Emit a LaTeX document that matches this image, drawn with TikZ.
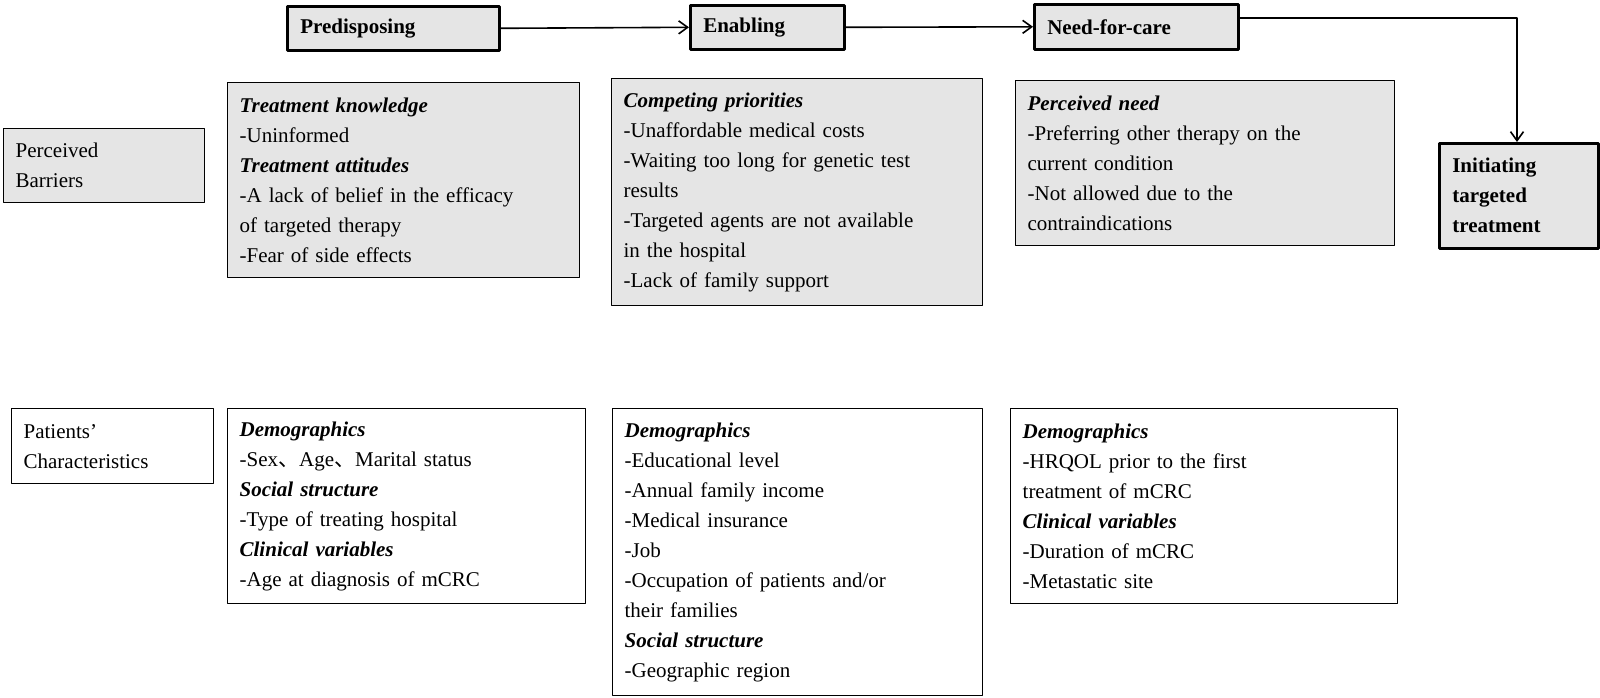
\documentclass[tikz,border=0pt]{standalone}
\usepackage{fontspec}
\setmainfont{Liberation Serif}
\newfontfamily\cjk{Noto Sans CJK SC}
\usetikzlibrary{arrows.meta,positioning}

\tikzset{
  base/.style={draw, anchor=north west, align=left, inner xsep=12pt, inner ysep=0pt,
    font=\fontsize{21}{30}\selectfont, line width=1.3pt},
  stage/.style={base, fill=black!10, line width=2.6pt, font=\fontsize{21}{30}\selectfont\bfseries},
  barrier/.style={base, fill=black!10},
  trait/.style={base, fill=white},
  flow/.style={line width=1.6pt, -{Straight Barb[length=9pt,width=13pt,line width=1.6pt]}}
}
\newcommand{\hd}[1]{\textbf{\textit{#1}}}
\newcommand{\sep}{{\cjk 、}}

\begin{document}
\begin{tikzpicture}[x=1pt, y=-1pt, line cap=round, line join=round]
  \useasboundingbox (0,0) rectangle (1600,698);

  % Stages
  \node[stage, minimum width=212pt, minimum height=44pt, text width=186pt] (pre) at (286,5) {Predisposing};
  \node[stage, minimum width=154pt, minimum height=44pt, text width=128pt] (ena) at (689,4) {Enabling};
  \node[stage, minimum width=204pt, minimum height=45pt, text width=178pt] (nee) at (1033,3) {Need-for-care};
  \node[stage, minimum width=159pt, minimum height=105pt, text width=133pt] (ini) at (1438,142)
    {Initiating\\targeted\\treatment};

  \draw[flow] (pre.east) -- (ena.west);
  \draw[flow] (nee.east |- 0,18) -- (1517,18) coordinate (turn) -- (turn |- ini.north);
  \draw[flow] (ena.east) -- (nee.west);

  % Perceived barriers
  \node[barrier, minimum width=201pt, minimum height=74pt, text width=177pt] (pb) at (3,128)
    {Perceived\\Barriers};
  \node[barrier, minimum width=352pt, minimum height=195pt, text width=328pt] (kno) at (227,82)
    {\hd{Treatment knowledge}\\-Uninformed\\\hd{Treatment attitudes}\\-A lack of belief in the efficacy\\of targeted therapy\\-Fear of side effects};
  \node[barrier, minimum width=371pt, minimum height=227pt, text width=347pt] (com) at (611,78)
    {\hd{Competing priorities}\\-Unaffordable medical costs\\-Waiting too long for genetic test\\results\\-Targeted agents are not available\\in the hospital\\-Lack of family support};
  \node[barrier, minimum width=379pt, minimum height=165pt, text width=355pt] (per) at (1015,80)
    {\hd{Perceived need}\\-Preferring other therapy on the\\current condition\\-Not allowed due to the\\contraindications};

  % Patients' characteristics
  \node[trait, minimum width=202pt, minimum height=75pt, text width=178pt] (pc) at (11,408)
    {Patients’\\Characteristics};
  \node[trait, minimum width=358pt, minimum height=195pt, text width=334pt] (dem1) at (227,408)
    {\hd{Demographics}\\-Sex\sep Age\sep Marital status\\\hd{Social structure}\\-Type of treating hospital\\\hd{Clinical variables}\\-Age at diagnosis of mCRC};
  \node[trait, minimum width=370pt, minimum height=287pt, text width=346pt] (dem2) at (612,408)
    {\hd{Demographics}\\-Educational level\\-Annual family income\\-Medical insurance\\-Job\\-Occupation of patients and/or\\their families\\\hd{Social structure}\\-Geographic region};
  \node[trait, minimum width=387pt, minimum height=195pt, text width=363pt] (dem3) at (1010,408)
    {\hd{Demographics}\\-HRQOL prior to the first\\treatment of mCRC\\\hd{Clinical variables}\\-Duration of mCRC\\-Metastatic site};
\end{tikzpicture}
\end{document}
